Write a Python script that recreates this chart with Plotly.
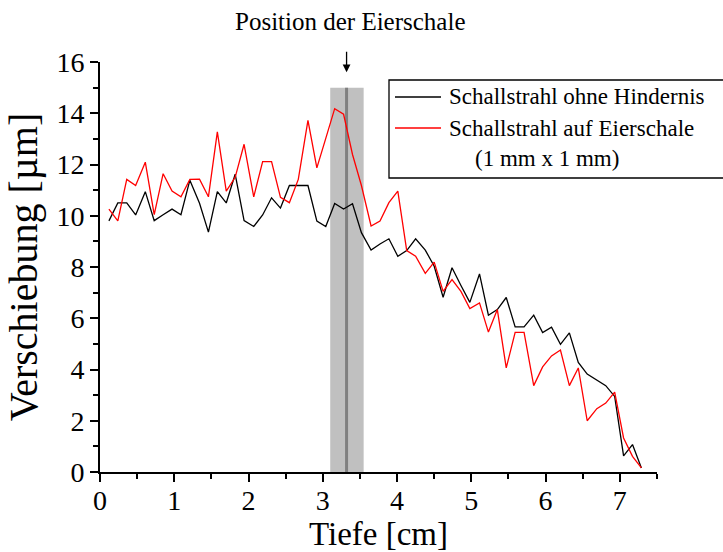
import plotly.graph_objects as go

# Tiefe [cm]
tiefe = [0.12, 0.24, 0.36, 0.48, 0.61, 0.73, 0.85, 0.97, 1.09, 1.21,
         1.34, 1.46, 1.58, 1.70, 1.82, 1.94, 2.07, 2.19, 2.31, 2.43,
         2.55, 2.67, 2.80, 2.92, 3.04, 3.16, 3.28, 3.40, 3.52, 3.65,
         3.77, 3.89, 4.01, 4.13, 4.25, 4.38, 4.50, 4.62, 4.74, 4.86,
         4.98, 5.11, 5.23, 5.35, 5.47, 5.59, 5.71, 5.84, 5.96, 6.08,
         6.20, 6.32, 6.44, 6.56, 6.69, 6.81, 6.93, 7.05, 7.17, 7.29]

# Schallstrahl ohne Hindernis
ohne_hindernis = [9.80, 10.50, 10.50, 10.03, 10.94, 9.81, 10.04, 10.26, 10.04, 11.39,
                  10.49, 9.36, 10.94, 10.50, 11.62, 9.81, 9.58, 10.03, 10.70, 10.30,
                  11.18, 11.18, 11.18, 9.79, 9.58, 10.48, 10.26, 10.47, 9.34, 8.66,
                  8.90, 9.10, 8.42, 8.64, 9.10, 8.66, 8.03, 6.82, 7.97, 7.28,
                  6.62, 7.73, 6.12, 6.34, 6.81, 5.66, 5.66, 6.12, 5.44, 5.65,
                  4.98, 5.43, 4.28, 3.82, 3.60, 3.37, 2.95, 0.63, 1.07, 0.16]

# Schallstrahl auf Eierschale
auf_eierschale = [10.26, 9.80, 11.42, 11.18, 12.09, 10.04, 11.64, 10.96, 10.74, 11.42,
                  11.43, 10.74, 13.27, 10.96, 11.50, 12.79, 10.74, 12.11, 12.11, 10.72,
                  10.51, 11.42, 13.72, 11.87, 13.02, 14.18, 13.96, 12.39, 11.18, 9.60,
                  9.79, 10.51, 10.96, 8.64, 8.42, 7.75, 8.19, 7.05, 7.51, 7.05,
                  6.38, 6.60, 5.46, 6.34, 4.06, 5.45, 5.45, 3.37, 4.10, 4.53,
                  4.76, 3.37, 4.06, 2.00, 2.47, 2.69, 3.12, 1.33, 0.61, 0.16]

series_names = ["Schallstrahl ohne Hindernis", "Schallstrahl auf Eierschale", "(1 mm x 1 mm)"]

# Eierschale position
band_x = [3.10, 3.55]
band_top = 15.0
schale_x = 3.32

FONT = "Liberation Serif, Times New Roman, serif"

fig = go.Figure()

fig.add_shape(type="rect", xref="x", yref="y", x0=band_x[0], x1=band_x[1], y0=0, y1=band_top,
              fillcolor="#c0c0c0", line=dict(width=0), layer="below")
fig.add_shape(type="line", xref="x", yref="y", x0=schale_x, x1=schale_x, y0=0, y1=band_top,
              line=dict(color="#808080", width=3), layer="below")

fig.add_trace(go.Scatter(x=tiefe, y=ohne_hindernis, mode="lines", name=series_names[0],
                         line=dict(color="#000000", width=1.3), showlegend=False))
fig.add_trace(go.Scatter(x=tiefe, y=auf_eierschale, mode="lines", name=series_names[1],
                         line=dict(color="#ff0000", width=1.3), showlegend=False))

W, H = 723, 552
ML, MR, MT, MB = 100, 66, 62, 80
PW, PH = W - ML - MR, H - MT - MB


def px(xp):
    return (xp - ML) / PW


def py(yp):
    return (H - MB - yp) / PH


# legend box (manual)
fig.add_shape(type="rect", xref="paper", yref="paper", x0=px(389), x1=px(760), y0=py(178), y1=py(80),
              line=dict(color="#000000", width=1.3), fillcolor="rgba(255,255,255,0)")
fig.add_shape(type="line", xref="paper", yref="paper", x0=px(395), x1=px(441), y0=py(97), y1=py(97),
              line=dict(color="#000000", width=1.3))
fig.add_shape(type="line", xref="paper", yref="paper", x0=px(395), x1=px(441), y0=py(128), y1=py(128),
              line=dict(color="#ff0000", width=1.3))
fig.add_annotation(xref="paper", yref="paper", x=px(447), y=py(97), text=series_names[0],
                   showarrow=False, xanchor="left", yanchor="middle", font=dict(family=FONT, size=23, color="#000"))
fig.add_annotation(xref="paper", yref="paper", x=px(447), y=py(128), text=series_names[1],
                   showarrow=False, xanchor="left", yanchor="middle", font=dict(family=FONT, size=23, color="#000"))
fig.add_annotation(xref="paper", yref="paper", x=px(473), y=py(158), text=series_names[2],
                   showarrow=False, xanchor="left", yanchor="middle", font=dict(family=FONT, size=23, color="#000"))

# title + arrow
fig.add_annotation(xref="paper", yref="paper", x=px(350), y=py(22), text="Position der Eierschale",
                   showarrow=False, xanchor="center", yanchor="middle", font=dict(family=FONT, size=25, color="#000"))
fig.add_annotation(xref="x", yref="y", x=schale_x, y=15.6, ax=0, ay=-22, text="",
                   showarrow=True, arrowhead=2, arrowsize=1.2, arrowwidth=1.3, arrowcolor="#000")

axis_common = dict(showline=True, linecolor="#000", linewidth=2, ticks="outside", ticklen=8, tickwidth=2,
                   tickcolor="#000", showgrid=False, zeroline=False, mirror=False, automargin=False,
                   tickfont=dict(family=FONT, size=28, color="#000"))

fig.update_xaxes(range=[0, 7.5], dtick=1, tick0=0, ticklabelstandoff=-6,
                 minor=dict(dtick=0.5, ticklen=5, tickwidth=2, tickcolor="#000", ticks="outside"),
                 title=dict(text="Tiefe [cm]", font=dict(family=FONT, size=33, color="#000"), standoff=4),
                 **axis_common)
fig.update_yaxes(range=[0, 16], dtick=2, tick0=0,
                 minor=dict(dtick=1, ticklen=5, tickwidth=2, tickcolor="#000", ticks="outside"),
                 title=dict(text="Verschiebung [µm]", font=dict(family=FONT, size=40, color="#000"), standoff=6),
                 **axis_common)

fig.update_layout(width=W, height=H, margin=dict(l=ML, r=MR, t=MT, b=MB),
                  plot_bgcolor="#fff", paper_bgcolor="#fff", showlegend=False)

fig.write_html("out.html")
